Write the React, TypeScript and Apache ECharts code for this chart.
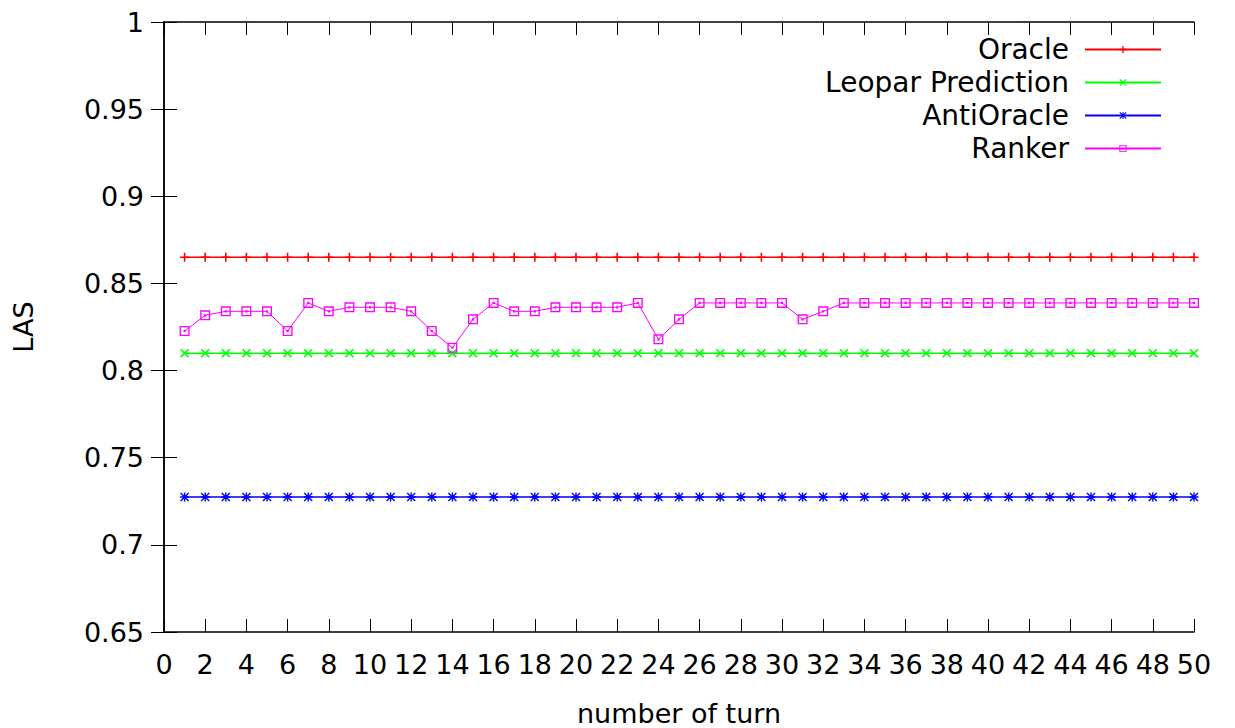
import React, { useEffect, useRef } from "react";
import * as echarts from "echarts";

const turns = [1,2,3,4,5,6,7,8,9,10,11,12,13,14,15,16,17,18,19,20,21,22,23,24,25,26,27,28,29,30,31,32,33,34,35,36,37,38,39,40,41,42,43,44,45,46,47,48,49,50];
const oracle = [0.865,0.865,0.865,0.865,0.865,0.865,0.865,0.865,0.865,0.865,0.865,0.865,0.865,0.865,0.865,0.865,0.865,0.865,0.865,0.865,0.865,0.865,0.865,0.865,0.865,0.865,0.865,0.865,0.865,0.865,0.865,0.865,0.865,0.865,0.865,0.865,0.865,0.865,0.865,0.865,0.865,0.865,0.865,0.865,0.865,0.865,0.865,0.865,0.865,0.865];
const leopar = [0.81,0.81,0.81,0.81,0.81,0.81,0.81,0.81,0.81,0.81,0.81,0.81,0.81,0.81,0.81,0.81,0.81,0.81,0.81,0.81,0.81,0.81,0.81,0.81,0.81,0.81,0.81,0.81,0.81,0.81,0.81,0.81,0.81,0.81,0.81,0.81,0.81,0.81,0.81,0.81,0.81,0.81,0.81,0.81,0.81,0.81,0.81,0.81,0.81,0.81];
const antiOracle = [0.7275,0.7275,0.7275,0.7275,0.7275,0.7275,0.7275,0.7275,0.7275,0.7275,0.7275,0.7275,0.7275,0.7275,0.7275,0.7275,0.7275,0.7275,0.7275,0.7275,0.7275,0.7275,0.7275,0.7275,0.7275,0.7275,0.7275,0.7275,0.7275,0.7275,0.7275,0.7275,0.7275,0.7275,0.7275,0.7275,0.7275,0.7275,0.7275,0.7275,0.7275,0.7275,0.7275,0.7275,0.7275,0.7275,0.7275,0.7275,0.7275,0.7275];
const ranker = [0.8227,0.8317,0.834,0.834,0.834,0.8227,0.8388,0.834,0.8363,0.8363,0.8363,0.834,0.8227,0.8131,0.8294,0.8388,0.834,0.834,0.8363,0.8363,0.8363,0.8363,0.8388,0.8179,0.8294,0.8388,0.8388,0.8388,0.8388,0.8388,0.8294,0.834,0.8388,0.8388,0.8388,0.8388,0.8388,0.8388,0.8388,0.8388,0.8388,0.8388,0.8388,0.8388,0.8388,0.8388,0.8388,0.8388,0.8388,0.8388];

const seriesNames = ["Oracle", "Leopar Prediction", "AntiOracle", "Ranker"];
const seriesColors = ["#ff0000", "#00ff00", "#0000ff", "#ff00ff"];

const PLUS = "path://M3.7,0 L5.3,0 L5.3,3.7 L9,3.7 L9,5.3 L5.3,5.3 L5.3,9 L3.7,9 L3.7,5.3 L0,5.3 L0,3.7 L3.7,3.7 Z";
const CROSS = "path://M0,1.1 L1.1,0 L9,7.9 L7.9,9 Z M7.9,0 L9,1.1 L1.1,9 L0,7.9 Z";
const STAR = "path://M3.8,0 L5.2,0 L5.2,3.8 L9,3.8 L9,5.2 L5.2,5.2 L5.2,9 L3.8,9 L3.8,5.2 L0,5.2 L0,3.8 L3.8,3.8 Z M0,1 L1,0 L9,8 L8,9 Z M8,0 L9,1 L1,9 L0,8 Z";
const BOXDOT = "path://M0,0 L9,0 L9,9 L0,9 Z M1.2,1.2 L1.2,7.8 L7.8,7.8 L7.8,1.2 Z M3.5,3.5 L5.5,3.5 L5.5,5.5 L3.5,5.5 Z";
const symbols = [PLUS, CROSS, STAR, BOXDOT];
const symbolSizes = [9, 9, 9, 10];
const lineWidths = [1.5, 1.5, 1.5, 1];

const FONT = "DejaVu Sans";

export default function App() {
  const ref = useRef<HTMLDivElement>(null);
  useEffect(() => {
    const chart = echarts.init(ref.current!, undefined, { renderer: "svg" });
    const values = [oracle, leopar, antiOracle, ranker];
    const axisLine = { show: true, lineStyle: { color: "#000", width: 1.5 } };
    const tick = { show: true, inside: true, length: 13, lineStyle: { color: "#000", width: 1 } };
    chart.setOption({
      animation: false,
      textStyle: { fontFamily: FONT },
      grid: { left: 164, right: 41, top: 22, bottom: 96, containLabel: false, outerBoundsMode: "none" },
      legend: {
        orient: "vertical",
        right: 68,
        top: 28,
        align: "right",
        itemWidth: 76,
        itemHeight: 9,
        itemGap: 0,
        data: seriesNames,
        textStyle: {
          fontFamily: FONT,
          fontSize: 28,
          color: "#000",
          lineHeight: 33,
          padding: [0, 11, 0, 0],
        },
      },
      xAxis: [
        {
          type: "value",
          min: 0,
          max: 50,
          interval: 2,
          position: "bottom",
          name: "number of turn",
          nameLocation: "middle",
          nameGap: 68,
          nameTextStyle: { fontFamily: FONT, fontSize: 27, color: "#000" },
          axisLine,
          axisTick: tick,
          axisLabel: { fontFamily: FONT, fontSize: 27, color: "#000", margin: 19 },
          splitLine: { show: false },
        },
        {
          type: "value",
          min: 0,
          max: 50,
          interval: 2,
          position: "top",
          axisLine,
          axisTick: tick,
          axisLabel: { show: false },
          splitLine: { show: false },
        },
      ],
      yAxis: [
        {
          type: "value",
          min: 0.65,
          max: 1,
          interval: 0.05,
          position: "left",
          name: "LAS",
          nameLocation: "middle",
          nameGap: 127,
          nameRotate: 90,
          nameTextStyle: { fontFamily: FONT, fontSize: 27, color: "#000" },
          axisLine,
          axisTick: tick,
          axisLabel: { fontFamily: FONT, fontSize: 27, color: "#000", margin: 20 },
          splitLine: { show: false },
        },
        {
          type: "value",
          min: 0.65,
          max: 1,
          interval: 0.05,
          position: "right",
          axisLine,
          axisTick: tick,
          axisLabel: { show: false },
          splitLine: { show: false },
        },
      ],
      series: seriesNames.map((name, i) => ({
        name,
        type: "line",
        xAxisIndex: 0,
        yAxisIndex: 0,
        data: turns.map((t, j) => [t, values[i][j]]),
        symbol: symbols[i],
        symbolSize: symbolSizes[i],
        showAllSymbol: true,
        color: seriesColors[i],
        lineStyle: { color: seriesColors[i], width: lineWidths[i] },
        itemStyle: { color: seriesColors[i] },
        emphasis: { disabled: true },
      })),
    });
    return () => chart.dispose();
  }, []);
  return <div ref={ref} style={{ width: 1235, height: 728, position: "absolute", left: 0, top: 0, background: "#fff" }} />;
}
